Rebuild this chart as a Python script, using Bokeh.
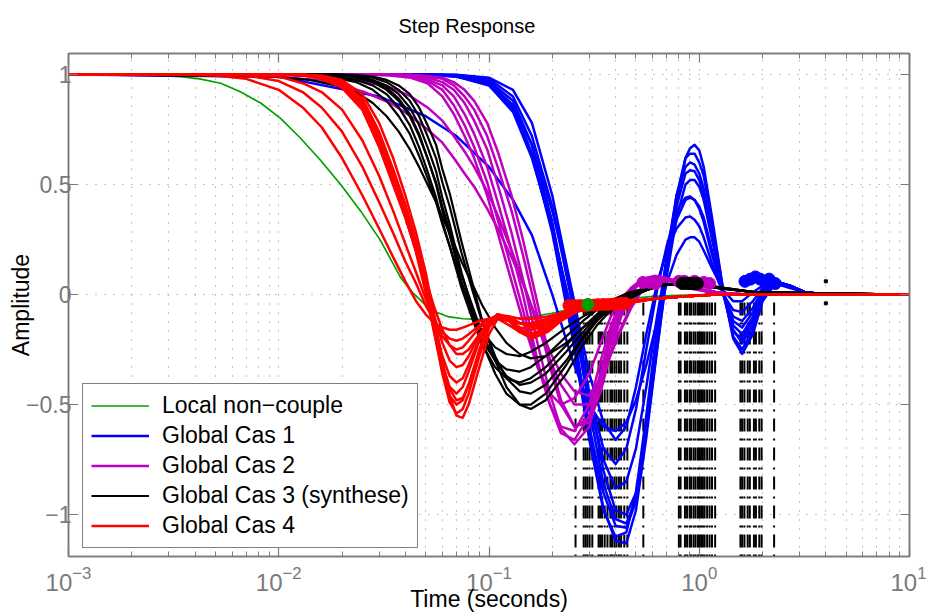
from bokeh.plotting import figure
from bokeh.models import (Range1d, FixedTicker, CustomJSTickFormatter, LogTickFormatter,
                          LogAxis, LinearAxis, Legend, LegendItem, ColumnDataSource)
from bokeh.embed import file_html
from bokeh.resources import INLINE

FONT = "Liberation Sans"

# ---------------- data ----------------
Y_TICKS = [-1, -0.5, 0, 0.5, 1]
X_EXPONENTS = [-3, -2, -1, 0, 1]

GREEN_T = [0.001, 0.002, 0.0034, 0.0042, 0.0053, 0.0066, 0.0082, 0.0102, 0.0127, 0.0158,
           0.0197, 0.0245, 0.0305, 0.038, 0.0437, 0.0527, 0.0636, 0.0755, 0.1, 0.15,
           0.2, 0.3, 0.4, 0.6, 1.0, 10]
GREEN_Y = [1, 1, 0.99, 0.98, 0.96, 0.92, 0.87, 0.80, 0.71, 0.61,
           0.50, 0.38, 0.245, 0.077, 0.005, -0.07, -0.10, -0.11, -0.115, -0.105,
           -0.085, -0.045, -0.025, -0.008, 0, 0]

BLUE_T = [0.001, 0.01, 0.03, 0.05, 0.07, 0.1, 0.13, 0.16, 0.2, 0.25,
          0.3, 0.35, 0.4, 0.45, 0.5, 0.56, 0.63, 0.7, 0.78, 0.86,
          0.905, 0.95, 1.0, 1.05, 1.15, 1.3, 1.45, 1.6, 1.8, 2.0,
          2.3, 2.7, 3.2, 4, 10]
BLUE_Y = [
    [1,1,1,1,0.995,0.97,0.88,0.68,0.33,-0.15,-0.62,-0.97,-1.12,-1.13,-0.98,-0.65,-0.25,0.1,0.42,0.62,0.665,0.68,0.655,0.58,0.35,0.02,-0.2,-0.27,-0.18,-0.03,0.05,0.04,0.01,0,0],
    [1,1,1,1,0.995,0.965,0.86,0.64,0.28,-0.2,-0.66,-0.98,-1.1,-1.08,-0.9,-0.55,-0.15,0.18,0.45,0.58,0.6,0.59,0.55,0.48,0.27,0.0,-0.17,-0.2,-0.12,0.0,0.06,0.04,0.01,0,0],
    [1,1,1,1,0.998,0.985,0.93,0.78,0.45,0.0,-0.45,-0.8,-0.98,-1.0,-0.9,-0.62,-0.25,0.08,0.35,0.5,0.52,0.52,0.49,0.43,0.25,0.02,-0.14,-0.18,-0.1,0.01,0.06,0.04,0.01,0,0],
    [1,1,1,1,0.99,0.95,0.83,0.62,0.3,-0.1,-0.45,-0.7,-0.77,-0.7,-0.52,-0.25,0.02,0.22,0.38,0.44,0.445,0.43,0.39,0.33,0.18,0.0,-0.1,-0.12,-0.06,0.02,0.06,0.04,0.01,0,0],
    [1,1,1,1,0.99,0.96,0.86,0.68,0.38,0.0,-0.36,-0.58,-0.66,-0.6,-0.42,-0.18,0.05,0.2,0.3,0.35,0.355,0.34,0.31,0.26,0.14,0.0,-0.07,-0.08,-0.03,0.03,0.06,0.04,0.01,0,0],
    [1,0.99,0.9,0.81,0.72,0.58,0.43,0.27,0.0,-0.3,-0.5,-0.6,-0.62,-0.58,-0.48,-0.32,-0.12,0.05,0.18,0.25,0.26,0.26,0.24,0.2,0.12,0.02,-0.03,-0.03,0.01,0.04,0.05,0.03,0.01,0,0],
    [1,1,1,1,0.997,0.98,0.9,0.72,0.4,-0.05,-0.52,-0.86,-1.02,-1.04,-0.93,-0.62,-0.22,0.12,0.4,0.55,0.565,0.56,0.52,0.46,0.27,0.01,-0.16,-0.22,-0.14,0.0,0.05,0.04,0.01,0,0],
    [1,1,1,1,0.993,0.96,0.85,0.64,0.3,-0.15,-0.6,-0.9,-1.05,-1.06,-0.94,-0.62,-0.2,0.15,0.45,0.62,0.64,0.64,0.6,0.54,0.32,0.02,-0.19,-0.25,-0.16,-0.02,0.05,0.04,0.01,0,0],
    [1,1,1,1,0.99,0.955,0.84,0.63,0.3,-0.1,-0.5,-0.75,-0.88,-0.85,-0.7,-0.42,-0.1,0.15,0.34,0.43,0.44,0.43,0.4,0.35,0.2,0.01,-0.12,-0.15,-0.08,0.02,0.06,0.04,0.01,0,0],
]

MAGENTA_T = [0.001, 0.0085, 0.017, 0.0255, 0.034, 0.0425, 0.051, 0.06, 0.068, 0.0765,
             0.085, 0.098, 0.11, 0.128, 0.145, 0.17, 0.195, 0.22, 0.255, 0.3,
             0.34, 0.38, 0.425, 0.475, 0.535, 0.61, 0.7, 0.81, 0.93, 1.1,
             1.36, 1.7, 2.55, 10]
MAGENTA_Y = [
    [1,1,1,1,0.998,0.99,0.975,0.95,0.9,0.82,0.73,0.58,0.42,0.2,0.0,-0.3,-0.5,-0.63,-0.66,-0.55,-0.35,-0.17,-0.04,0.03,0.07,0.08,0.07,0.05,0.03,0.015,0.005,0,0,0],
    [1,1,1,1,1,0.997,0.99,0.98,0.95,0.9,0.84,0.72,0.58,0.38,0.18,-0.1,-0.33,-0.5,-0.6,-0.56,-0.4,-0.22,-0.08,0.02,0.06,0.075,0.07,0.05,0.03,0.015,0.005,0,0,0],
    [1,1,1,1,0.995,0.985,0.96,0.9,0.82,0.72,0.62,0.45,0.28,0.06,-0.12,-0.33,-0.45,-0.5,-0.47,-0.36,-0.22,-0.1,-0.02,0.03,0.05,0.055,0.05,0.04,0.025,0.012,0.004,0,0,0],
    [1,1,1,1,0.999,0.995,0.985,0.965,0.93,0.87,0.79,0.66,0.5,0.28,0.07,-0.22,-0.45,-0.61,-0.68,-0.6,-0.4,-0.2,-0.06,0.03,0.07,0.085,0.075,0.055,0.03,0.015,0.005,0,0,0],
    [1,0.995,0.97,0.92,0.87,0.81,0.75,0.69,0.62,0.55,0.49,0.39,0.3,0.17,0.05,-0.12,-0.26,-0.36,-0.44,-0.46,-0.38,-0.27,-0.16,-0.06,0.02,0.06,0.065,0.05,0.03,0.015,0.005,0,0,0],
    [1,1,0.99,0.97,0.94,0.9,0.85,0.79,0.72,0.65,0.58,0.47,0.36,0.2,0.06,-0.14,-0.3,-0.41,-0.5,-0.5,-0.4,-0.27,-0.15,-0.05,0.03,0.07,0.07,0.05,0.03,0.015,0.005,0,0,0],
    [1,1,1,1,0.997,0.99,0.97,0.93,0.86,0.77,0.67,0.51,0.34,0.12,-0.07,-0.32,-0.5,-0.6,-0.62,-0.5,-0.3,-0.14,-0.03,0.03,0.06,0.07,0.065,0.05,0.03,0.015,0.005,0,0,0],
    [1,1,1,1,1,0.998,0.993,0.985,0.965,0.93,0.88,0.78,0.65,0.45,0.25,-0.04,-0.3,-0.48,-0.6,-0.58,-0.44,-0.26,-0.1,0.01,0.06,0.08,0.075,0.055,0.03,0.015,0.005,0,0,0],
]

BLACK_T = [0.001, 0.0093, 0.014, 0.0186, 0.0233, 0.028, 0.0326, 0.0372, 0.042, 0.0465,
           0.051, 0.056, 0.06, 0.065, 0.074, 0.084, 0.093, 0.107, 0.121, 0.14,
           0.158, 0.186, 0.233, 0.28, 0.326, 0.372, 0.465, 0.56, 0.65, 0.79,
           0.93, 1.21, 1.86, 10]
BLACK_Y = [
    [1,1,1,0.998,0.99,0.975,0.95,0.91,0.85,0.77,0.67,0.56,0.44,0.32,0.1,-0.08,-0.22,-0.36,-0.45,-0.5,-0.5,-0.45,-0.32,-0.2,-0.12,-0.07,-0.01,0.02,0.04,0.05,0.05,0.035,0.01,0],
    [1,1,0.998,0.99,0.975,0.95,0.91,0.85,0.77,0.67,0.56,0.44,0.33,0.22,0.03,-0.12,-0.23,-0.33,-0.38,-0.4,-0.38,-0.33,-0.23,-0.15,-0.09,-0.05,0.0,0.025,0.04,0.05,0.045,0.03,0.01,0],
    [1,1,1,0.997,0.99,0.97,0.94,0.89,0.82,0.73,0.62,0.5,0.38,0.27,0.06,-0.1,-0.21,-0.3,-0.34,-0.35,-0.33,-0.28,-0.19,-0.12,-0.07,-0.04,0.0,0.025,0.04,0.05,0.045,0.03,0.01,0],
    [1,1,1,1,0.995,0.985,0.965,0.93,0.88,0.81,0.72,0.62,0.51,0.4,0.19,0.01,-0.13,-0.28,-0.38,-0.44,-0.45,-0.41,-0.3,-0.19,-0.11,-0.06,-0.01,0.02,0.04,0.05,0.05,0.035,0.01,0],
    [1,0.99,0.975,0.95,0.92,0.87,0.81,0.74,0.66,0.58,0.5,0.42,0.35,0.28,0.15,0.04,-0.05,-0.15,-0.22,-0.27,-0.29,-0.28,-0.22,-0.15,-0.1,-0.06,-0.01,0.02,0.04,0.05,0.045,0.03,0.01,0],
    [1,1,0.995,0.985,0.965,0.93,0.88,0.81,0.73,0.63,0.53,0.42,0.32,0.22,0.05,-0.08,-0.17,-0.24,-0.27,-0.28,-0.26,-0.22,-0.15,-0.1,-0.06,-0.03,0.01,0.03,0.045,0.05,0.045,0.03,0.01,0],
    [1,1,1,1,0.997,0.99,0.975,0.95,0.91,0.85,0.77,0.68,0.57,0.46,0.24,0.04,-0.12,-0.3,-0.42,-0.5,-0.52,-0.48,-0.36,-0.23,-0.14,-0.08,-0.02,0.02,0.04,0.05,0.05,0.035,0.01,0],
    [1,1,0.999,0.995,0.985,0.965,0.93,0.88,0.81,0.72,0.62,0.51,0.4,0.29,0.09,-0.06,-0.18,-0.3,-0.37,-0.41,-0.4,-0.36,-0.26,-0.17,-0.1,-0.06,-0.01,0.02,0.04,0.05,0.045,0.03,0.01,0],
]

RED_T = [0.001, 0.003, 0.005, 0.007, 0.01, 0.013, 0.016, 0.02, 0.025, 0.03,
         0.035, 0.04, 0.045, 0.05, 0.055, 0.06, 0.065, 0.07, 0.075, 0.08,
         0.09, 0.1, 0.11, 0.125, 0.14, 0.16, 0.19, 0.22, 0.26, 0.3,
         0.36, 0.45, 0.6, 0.8, 1.2, 2, 10]
RED_Y = [
    [1,1,0.995,0.98,0.93,0.85,0.76,0.62,0.45,0.3,0.17,0.06,-0.03,-0.09,-0.13,-0.15,-0.16,-0.16,-0.15,-0.14,-0.12,-0.11,-0.1,-0.1,-0.11,-0.11,-0.1,-0.085,-0.065,-0.055,-0.045,-0.035,-0.02,-0.01,0,0,0],
    [1,1,1,0.995,0.97,0.92,0.85,0.74,0.58,0.42,0.28,0.15,0.05,-0.05,-0.12,-0.17,-0.2,-0.21,-0.2,-0.18,-0.14,-0.11,-0.1,-0.11,-0.13,-0.14,-0.12,-0.1,-0.075,-0.06,-0.05,-0.04,-0.02,-0.01,0,0,0],
    [1,1,1,1,0.99,0.96,0.92,0.84,0.7,0.54,0.38,0.23,0.1,-0.02,-0.12,-0.19,-0.23,-0.25,-0.24,-0.21,-0.15,-0.11,-0.11,-0.14,-0.17,-0.18,-0.15,-0.11,-0.08,-0.06,-0.05,-0.04,-0.02,-0.01,0,0,0],
    [1,1,1,1,1,0.998,0.99,0.96,0.88,0.72,0.55,0.4,0.24,0.05,-0.17,-0.36,-0.49,-0.54,-0.52,-0.45,-0.28,-0.15,-0.1,-0.12,-0.17,-0.19,-0.16,-0.11,-0.075,-0.06,-0.05,-0.04,-0.02,-0.01,0,0,0],
    [1,1,1,1,1,0.998,0.99,0.955,0.87,0.7,0.53,0.37,0.2,0.02,-0.18,-0.35,-0.46,-0.5,-0.48,-0.41,-0.25,-0.13,-0.09,-0.11,-0.16,-0.18,-0.15,-0.1,-0.07,-0.055,-0.045,-0.035,-0.02,-0.01,0,0,0],
    [1,1,1,1,1,0.997,0.985,0.95,0.86,0.7,0.52,0.36,0.19,0.01,-0.17,-0.32,-0.42,-0.45,-0.42,-0.35,-0.21,-0.12,-0.09,-0.11,-0.15,-0.16,-0.14,-0.1,-0.07,-0.055,-0.045,-0.035,-0.02,-0.01,0,0,0],
    [1,1,1,1,1,0.997,0.985,0.95,0.85,0.68,0.5,0.35,0.2,0.03,-0.14,-0.28,-0.37,-0.4,-0.38,-0.32,-0.2,-0.12,-0.09,-0.1,-0.13,-0.15,-0.13,-0.09,-0.065,-0.05,-0.04,-0.03,-0.02,-0.01,0,0,0],
    [1,1,1,1,1,0.996,0.98,0.94,0.84,0.67,0.5,0.35,0.2,0.05,-0.1,-0.22,-0.3,-0.33,-0.32,-0.28,-0.18,-0.12,-0.1,-0.11,-0.13,-0.14,-0.12,-0.09,-0.065,-0.05,-0.04,-0.03,-0.02,-0.01,0,0,0],
    [1,1,1,1,1,0.996,0.98,0.94,0.84,0.68,0.51,0.36,0.21,0.07,-0.06,-0.16,-0.23,-0.27,-0.27,-0.25,-0.18,-0.13,-0.11,-0.12,-0.13,-0.13,-0.11,-0.085,-0.06,-0.05,-0.04,-0.03,-0.02,-0.01,0,0,0],
    [1,1,1,1,1,1,0.995,0.975,0.91,0.78,0.62,0.45,0.28,0.1,-0.1,-0.3,-0.46,-0.55,-0.56,-0.5,-0.33,-0.18,-0.11,-0.12,-0.17,-0.2,-0.17,-0.12,-0.08,-0.06,-0.05,-0.04,-0.02,-0.01,0,0,0],
    [1,1,1,1,1,0.999,0.992,0.965,0.89,0.74,0.57,0.41,0.24,0.06,-0.14,-0.31,-0.43,-0.48,-0.47,-0.41,-0.26,-0.14,-0.1,-0.12,-0.16,-0.18,-0.15,-0.1,-0.07,-0.055,-0.045,-0.035,-0.02,-0.01,0,0,0],
]

# characteristic markers (dots) on the curves
RED_DOT_T = [0.24, 0.255, 0.27, 0.285, 0.3, 0.315, 0.33, 0.35, 0.37, 0.39, 0.41, 0.43, 0.445]
RED_DOT_Y = [-0.05, -0.05, -0.05, -0.05, -0.048, -0.048, -0.046, -0.045, -0.045, -0.044, -0.042, -0.04, -0.04]
MAGENTA_DOT_T = [0.54, 0.58, 0.62, 0.8, 0.85, 0.95, 1.05, 1.12]
MAGENTA_DOT_Y = [0.055, 0.055, 0.05, 0.06, 0.06, 0.06, 0.055, 0.05]
BLACK_DOT_T = [0.83, 0.86, 0.89, 0.92, 0.95, 0.98]
BLACK_DOT_Y = [0.05, 0.05, 0.05, 0.05, 0.05, 0.05]
BLUE_DOT_T = [1.65, 1.75, 1.85, 1.95, 2.05, 2.15, 2.3]
BLUE_DOT_Y = [0.06, 0.07, 0.08, 0.07, 0.06, 0.07, 0.05]
GREEN_DOT_T = [0.295]
GREEN_DOT_Y = [-0.045]

# dash-dot drop lines from the markers to the time axis
DROP_T = [0.258, 0.282, 0.288, 0.294, 0.301, 0.31, 0.332, 0.338, 0.345, 0.355,
          0.366, 0.378, 0.385, 0.395, 0.404, 0.415, 0.425, 0.44, 0.455, 0.542,
          0.8, 0.815, 0.855, 0.875, 0.9, 0.915, 0.94, 0.96, 0.985, 1.0,
          1.02, 1.04, 1.06, 1.09, 1.12, 1.15, 1.19,
          1.57, 1.6, 1.64, 1.7, 1.74, 1.82, 1.86, 1.93, 1.98, 2.27]
DROP_TOP = -0.03
SETTLE_MARK_T = [4.0, 4.0]
SETTLE_MARK_Y = [0.06, -0.04]

LEGEND_LABELS = ["Local non\u2212couple", "Global Cas 1", "Global Cas 2",
                 "Global Cas 3 (synthese)", "Global Cas 4"]

# ---------------- styling / layout ----------------
GREEN, BLUE, MAGENTA, BLACK, RED = "#00a000", "#0000ff", "#bf00bf", "#000000", "#ff0000"
AXIS_GRAY = "#7a7a7a"
GRID_GRAY = "#8a8a8a"
Y_MIN, Y_MAX = -1.19, 1.095

p = figure(width=926, height=615, x_axis_type="log",
           x_range=Range1d(1e-3, 10), y_range=Range1d(Y_MIN, Y_MAX),
           output_backend="svg", toolbar_location=None,
           min_border_left=68, min_border_right=17, min_border_top=53, min_border_bottom=59,
           background_fill_color="white", border_fill_color="white")
p.outline_line_color = AXIS_GRAY
p.outline_line_width = 1.5

p.title.text = "Step Response"
p.title.align = "left"
p.title.vertical_align = "top"
p.title.offset = 330
p.title.standoff = 29
p.title.text_font = FONT
p.title.text_font_size = "20px"
p.title.text_font_style = "normal"
p.title.text_color = "black"

xticker = FixedTicker(ticks=[10.0 ** e for e in X_EXPONENTS],
                      minor_ticks=[k * 10.0 ** e for e in X_EXPONENTS[:-1] for k in range(2, 10)])
yticker = FixedTicker(ticks=Y_TICKS, minor_ticks=[])
empty_fmt = CustomJSTickFormatter(code="return '';")
yfmt = CustomJSTickFormatter(code="return tick < 0 ? '\\u2212' + Math.abs(tick) : String(tick);")


def style_axis(ax, minor=True):
    ax.axis_line_color = AXIS_GRAY
    ax.axis_line_width = 1.5
    ax.major_tick_line_color = AXIS_GRAY
    ax.major_tick_line_width = 1.2
    ax.major_tick_in = 9
    ax.major_tick_out = 0
    ax.minor_tick_line_color = AXIS_GRAY if minor else None
    ax.minor_tick_in = 5
    ax.minor_tick_out = 0


xax = p.xaxis[0]
xax.ticker = xticker
xax.formatter = LogTickFormatter()
xax.major_label_text_font = FONT
xax.major_label_text_font_size = "24px"
xax.major_label_text_color = AXIS_GRAY
xax.major_label_standoff = 9
xax.axis_label = "Time (seconds)"
xax.axis_label_text_font = FONT
xax.axis_label_text_font_size = "23px"
xax.axis_label_text_font_style = "normal"
xax.axis_label_text_color = "black"
xax.axis_label_standoff = -8
style_axis(xax)

yax = p.yaxis[0]
yax.ticker = yticker
yax.formatter = yfmt
yax.major_label_text_font = FONT
yax.major_label_text_font_size = "23px"
yax.major_label_text_color = AXIS_GRAY
yax.major_label_standoff = -3
yax.axis_label = "Amplitude"
yax.axis_label_text_font = FONT
yax.axis_label_text_font_size = "23px"
yax.axis_label_text_font_style = "normal"
yax.axis_label_text_color = "black"
yax.axis_label_standoff = -11
style_axis(yax, minor=False)

top_ax = LogAxis(ticker=xticker, formatter=empty_fmt, major_label_standoff=0)
style_axis(top_ax)
p.add_layout(top_ax, "above")
right_ax = LinearAxis(ticker=yticker, formatter=empty_fmt, major_label_standoff=0)
style_axis(right_ax, minor=False)
p.add_layout(right_ax, "right")

p.xgrid.ticker = xticker
p.ygrid.ticker = yticker
p.xgrid.grid_line_color = GRID_GRAY
p.xgrid.grid_line_dash = "1 8"
p.xgrid.minor_grid_line_color = GRID_GRAY
p.xgrid.minor_grid_line_dash = "1 8"
p.ygrid.grid_line_color = GRID_GRAY
p.ygrid.grid_line_dash = "1 8"

# drop lines (drawn first: curves pass over them)
p.segment(x0=DROP_T, y0=[Y_MIN] * len(DROP_T), x1=DROP_T, y1=[DROP_TOP] * len(DROP_T),
          line_color="black", line_width=2, line_dash="13 7 2 7", line_dash_offset=20)
p.scatter(SETTLE_MARK_T, SETTLE_MARK_Y, marker="square", size=3, color="black")


def family(T, curves, color, width):
    xs, ys = [], []
    for c in curves:
        n = min(len(T), len(c))
        xs.append(T[:n])
        ys.append(c[:n])
    src = ColumnDataSource(dict(xs=xs, ys=ys))
    return p.multi_line("xs", "ys", source=src, line_color=color, line_width=width,
                        line_join="round")


r_green = family(GREEN_T, [GREEN_Y], GREEN, 1.7)
r_blue = family(BLUE_T, BLUE_Y, BLUE, 2.5)
r_mag = family(MAGENTA_T, MAGENTA_Y, MAGENTA, 2.5)
r_black = family(BLACK_T, BLACK_Y, BLACK, 2.2)
r_red = family(RED_T, RED_Y, RED, 2.5)

for T, Y, c in [(RED_DOT_T, RED_DOT_Y, RED), (MAGENTA_DOT_T, MAGENTA_DOT_Y, MAGENTA),
                (BLACK_DOT_T, BLACK_DOT_Y, BLACK), (BLUE_DOT_T, BLUE_DOT_Y, BLUE),
                (GREEN_DOT_T, GREEN_DOT_Y, GREEN)]:
    p.scatter(T, Y, marker="circle", size=12, color=c)

legend = Legend(items=[LegendItem(label=l, renderers=[r]) for l, r in
                       zip(LEGEND_LABELS, [r_green, r_blue, r_mag, r_black, r_red])],
                location=(14, 8), margin=0, padding=8, spacing=3,
                glyph_width=58, glyph_height=27, label_height=27, label_standoff=13,
                label_text_font=FONT, label_text_font_size="23px", label_text_color="black",
                border_line_color="black", border_line_width=1.2,
                background_fill_color="white", background_fill_alpha=1.0)
p.add_layout(legend)

open("out.html", "w", encoding="utf-8").write(file_html(p, INLINE))
